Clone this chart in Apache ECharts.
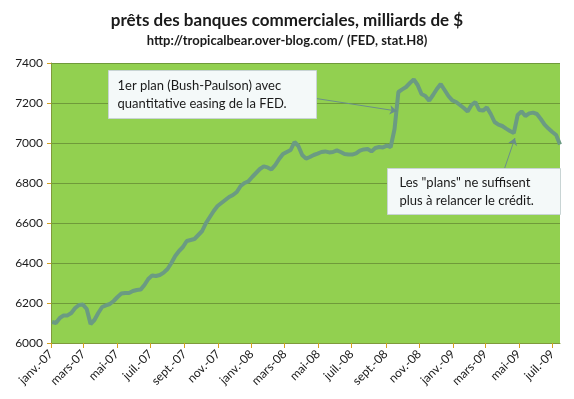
<!DOCTYPE html>
<html>
<head>
<meta charset="utf-8">
<script src="https://cdn.jsdelivr.net/npm/echarts@6/dist/echarts.min.js"></script>
<style>
  html, body { margin: 0; padding: 0; background: #fff; }
  #chart { width: 574px; height: 399px; }
</style>
</head>
<body>
<div id="chart"></div>
<script>
// weekly H.8 figures, first week 2007-01-03
const firstWeek = [2007, 0, 3]
const loans = [
  6105, 6100, 6125, 6138, 6138, 6150, 6175, 6190, 6192, 6170,
  6095, 6115, 6150, 6180, 6188, 6195, 6210, 6230, 6247, 6250,
  6250, 6260, 6265, 6267, 6290, 6320, 6338, 6335, 6340, 6352,
  6370, 6400, 6435, 6460, 6480, 6510, 6515, 6520, 6540, 6560,
  6600, 6630, 6660, 6685, 6700, 6715, 6730, 6740, 6755, 6785,
  6800, 6808, 6830, 6850, 6870, 6883, 6878, 6868, 6890, 6920,
  6945, 6955, 6965, 7005, 6985, 6940, 6922, 6930, 6940, 6947,
  6955, 6958, 6953, 6955, 6963, 6955, 6945, 6942, 6942, 6948,
  6962, 6968, 6970, 6958, 6975, 6980, 6978, 6987, 6980, 7070,
  7255, 7268, 7280, 7300, 7318, 7290, 7245, 7235, 7212, 7240,
  7270, 7295, 7265, 7235, 7213, 7205, 7190, 7175, 7158, 7190,
  7205, 7165, 7162, 7178, 7145, 7105, 7092, 7085, 7072, 7060,
  7050, 7140, 7158, 7135, 7148, 7152, 7145, 7120, 7092, 7072,
  7055, 7040, 6992
]
const tickDates = [
  [2007, 0], [2007, 2], [2007, 4], [2007, 6], [2007, 8], [2007, 10],
  [2008, 0], [2008, 2], [2008, 4], [2008, 6], [2008, 8], [2008, 10],
  [2009, 0], [2009, 2], [2009, 4], [2009, 6]
]
const tickLabels = [
  'janv.-07', 'mars-07', 'mai-07', 'juil.-07', 'sept.-07', 'nov.-07',
  'janv.-08', 'mars-08', 'mai-08', 'juil.-08', 'sept.-08', 'nov.-08',
  'janv.-09', 'mars-09', 'mai-09', 'juil.-09'
]
const yTicks = [6000, 6200, 6400, 6600, 6800, 7000, 7200, 7400]

// days since 2007-01-01
const origin = Date.UTC(2007, 0, 1)
const dayOf = (y, m, d) => (Date.UTC(y, m, d) - origin) / 86400000

const start = dayOf(firstWeek[0], firstWeek[1], firstWeek[2])
const points = loans.map((v, i) => [start + 7 * i, v])
const tickDays = tickDates.map(t => dayOf(t[0], t[1], 1))
const labelOf = {}
tickDays.forEach((d, i) => { labelOf[d] = tickLabels[i] })

const font = 'Lato, "Noto Sans", sans-serif'
const boxText = {
  fontFamily: font,
  fontSize: 13,
  lineHeight: 18,
  fill: '#1a1a1a'
}

const chart = echarts.init(document.getElementById('chart'))
chart.setOption({
  animation: false,
  title: {
    text: 'prêts des banques commerciales, milliards de $',
    subtext: 'http://tropicalbear.over-blog.com/ (FED, stat.H8)',
    left: 'center',
    top: 7,
    itemGap: 5,
    textStyle: { fontFamily: font, fontSize: 17, fontWeight: 'bold', color: '#1a1a1a' },
    subtextStyle: { fontFamily: font, fontSize: 13, fontWeight: 'bold', color: '#1a1a1a' }
  },
  grid: { left: 51, right: 14, top: 63, bottom: 56, show: true, backgroundColor: '#92d050', borderWidth: 0 },
  xAxis: {
    type: 'value',
    min: 0,
    max: points[points.length - 1][0],
    splitLine: { show: false },
    axisLine: { lineStyle: { color: '#7f9a3c', width: 1 } },
    axisTick: { customValues: tickDays, length: 5, lineStyle: { color: '#d4a020' } },
    axisLabel: {
      customValues: tickDays,
      formatter: v => labelOf[v] || '',
      rotate: 45,
      margin: 9,
      fontFamily: font,
      fontSize: 12,
      color: '#1a1a1a'
    }
  },
  yAxis: {
    type: 'value',
    min: yTicks[0],
    max: yTicks[yTicks.length - 1],
    interval: 200,
    axisLine: { show: true, lineStyle: { color: '#7f9a3c', width: 1 } },
    axisTick: { show: true, length: 4, lineStyle: { color: '#d4a020' } },
    splitLine: { lineStyle: { color: '#6f9a3a', width: 1 } },
    axisLabel: { fontFamily: font, fontSize: 12, color: '#1a1a1a', margin: 8, formatter: v => String(v) }
  },
  series: [{
    type: 'line',
    data: points,
    showSymbol: false,
    lineStyle: { color: '#6b9b82', width: 4 },
    markLine: {
      silent: true,
      symbol: ['none', 'arrow'],
      symbolSize: 7,
      label: { show: false },
      lineStyle: { color: '#6a8f8a', width: 1, type: 'solid' },
      data: [
        [{ x: 313, y: 98 }, { coord: [dayOf(2008, 8, 21), 7160] }],
        [{ x: 504, y: 170 }, { coord: [dayOf(2009, 3, 24), 7025] }]
      ]
    }
  }],
  graphic: [
    {
      type: 'group', left: 108, top: 70, z: 100,
      children: [
        { type: 'rect', z: 100, shape: { width: 208, height: 48 }, style: { fill: '#f4f9f9', stroke: '#c8d4d4', lineWidth: 1 } },
        { type: 'text', z: 101, x: 9, y: 6, style: Object.assign({ text: '1er plan (Bush-Paulson) avec\nquantitative easing de la FED.' }, boxText) }
      ]
    },
    {
      type: 'group', left: 387, top: 168, z: 100,
      children: [
        { type: 'rect', z: 100, shape: { width: 173, height: 46 }, style: { fill: '#f4f9f9', stroke: '#c8d4d4', lineWidth: 1 } },
        { type: 'text', z: 101, x: 12, y: 5, style: Object.assign({ text: 'Les "plans" ne suffisent\nplus à relancer le crédit.' }, boxText) }
      ]
    }
  ]
})
</script>
</body>
</html>
